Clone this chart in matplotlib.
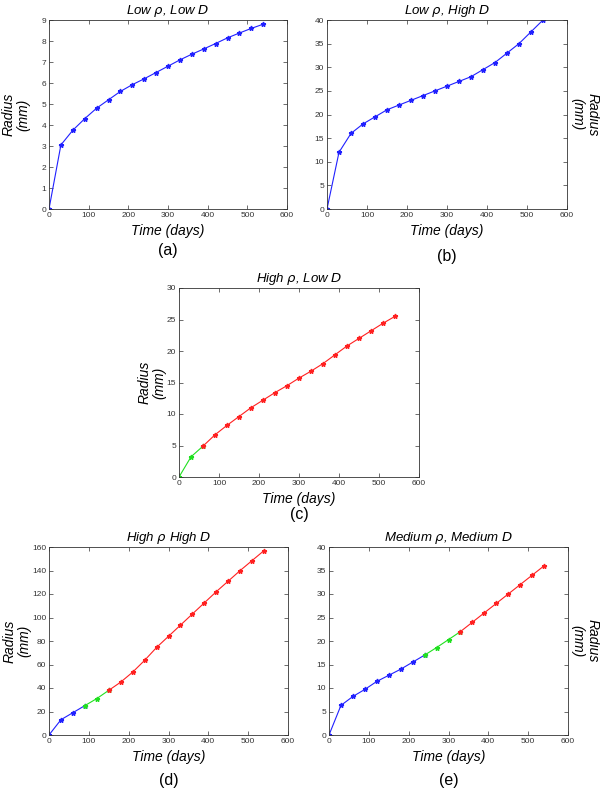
import numpy as np
import matplotlib
matplotlib.use("Agg")
import matplotlib.pyplot as plt

plt.rcParams["font.family"] = ["Liberation Sans", "DejaVu Sans"]

# ── Data ──────────────────────────────────────────────────────────────────────
days = [0, 30, 60, 90, 120, 150, 180, 210, 240, 270, 300, 330, 360, 390,
        420, 450, 480, 510, 540]

r_low_low = [0, 3.05, 3.75, 4.3, 4.8, 5.2, 5.6, 5.92, 6.2, 6.5, 6.8, 7.1,
             7.37, 7.62, 7.88, 8.15, 8.38, 8.6, 8.8]
r_low_high = [0, 12, 16, 18, 19.5, 21, 22, 23, 24, 25, 26, 27, 28, 29.5,
              31, 33, 35, 37.5, 40]
r_high_low = [0, 3.2, 4.9, 6.7, 8.2, 9.6, 11, 12.2, 13.4, 14.5, 15.7, 16.8,
              18, 19.4, 20.8, 22, 23.2, 24.4, 25.5]
r_high_high = [0, 13, 19, 25, 31, 38, 45, 53.5, 63.5, 74.5, 84, 93.5, 103,
               112.5, 122, 131, 140, 148.5, 157]
r_med_med = [0, 6.3, 8.2, 9.7, 11.4, 12.7, 14, 15.5, 17, 18.6, 20.3, 22,
             24, 26, 28, 30, 32, 34, 36]

# phase change indices: (blue -> green, green -> red); None = phase absent
phases_low_low = (None, None)
phases_low_high = (None, None)
phases_high_low = (0, 2)
phases_high_high = (3, 5)
phases_med_med = (8, 11)

titles = ["Low $\\rho$, Low $D$", "Low $\\rho$, High $D$", "High $\\rho$, Low $D$",
          "High $\\rho$ High $D$", "Medium $\\rho$, Medium $D$"]
letters = ["(a)", "(b)", "(c)", "(d)", "(e)"]
ylims = [9, 40, 30, 160, 40]

BLUE, GREEN, RED = "#2020ff", "#20e020", "#ff2020"

# ── Layout (pixels: left, top, right, bottom) ────────────────────────────────
W, H = 600, 790
boxes = [(49, 20, 287, 209), (327, 20, 567, 209), (179, 288, 419, 477),
         (49, 547, 288, 735), (329, 547, 568, 735)]
ylabel_x = [16, 585, 152, 17, 585]   # pixel centre of the two-line y label
letter_y = [250, 257, 515, 780, 780]

fig = plt.figure(figsize=(W / 100, H / 100), dpi=100)
fig.patch.set_facecolor("white")

all_r = [r_low_low, r_low_high, r_high_low, r_high_high, r_med_med]
all_ph = [phases_low_low, phases_low_high, phases_high_low,
          phases_high_high, phases_med_med]

for i, (l, t, r, b) in enumerate(boxes):
    ax = fig.add_axes([l / W, 1 - b / H, (r - l) / W, (b - t) / H])
    x = np.array(days)
    y = np.array(all_r[i])
    g0, g1 = all_ph[i]
    segs = []
    if g0 is None:
        segs.append((0, len(x), BLUE))
    else:
        if g0 > 0:
            segs.append((0, g0 + 1, BLUE))
        segs.append((g0, g1 + 1, GREEN))
        segs.append((g1, len(x), RED))
    for s0, s1, c in segs:
        ax.plot(x[s0:s1], y[s0:s1], color=c, lw=0.8, marker="*",
                ms=3.5, mec=c, mfc=c)

    ax.set_xlim(0, 600)
    ax.set_ylim(0, ylims[i])
    ax.set_xticks(range(0, 601, 100))
    ax.tick_params(direction="in", top=True, right=True, labelsize=6,
                   length=3, width=0.5, colors="#333333", pad=2)
    for sp in ax.spines.values():
        sp.set_linewidth(0.6)
        sp.set_color("#333333")

    ax.set_title(titles[i], fontsize=9.5, style="italic", pad=4)
    ax.set_xlabel("Time (days)", fontsize=10, style="italic", labelpad=4)
    lx = (ylabel_x[i] - l) / (r - l)
    if ylabel_x[i] > r:
        ax.yaxis.set_label_position("right")
        ax.set_ylabel("Radius\n(mm)", fontsize=10, style="italic",
                      rotation=270, linespacing=1.1, va="center")
    else:
        ax.set_ylabel("Radius\n(mm)", fontsize=10, style="italic",
                      linespacing=1.1, va="center")
    ax.yaxis.set_label_coords(lx, 0.5)
    fig.text((l + r) / 2 / W, 1 - letter_y[i] / H, letters[i], fontsize=11.5,
             ha="center", va="center")

fig.savefig("out.png", dpi=100, facecolor="white")
